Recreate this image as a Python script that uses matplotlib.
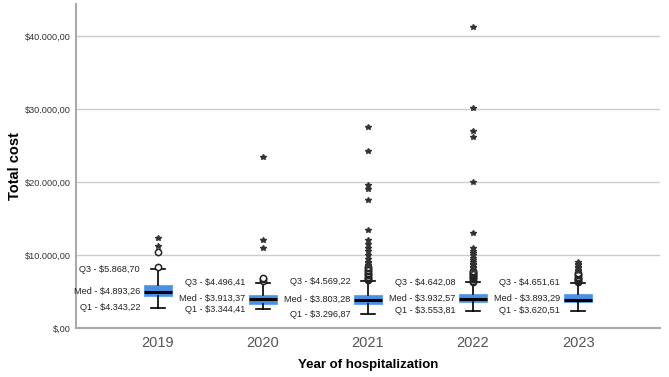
import matplotlib

matplotlib.use("Agg")
import matplotlib.pyplot as plt
from matplotlib.ticker import FuncFormatter

# values (SPSS style boxplot)
years = ["2019", "2020", "2021", "2022", "2023"]
q1 = [4343.22, 3344.41, 3296.87, 3553.81, 3620.51]
med = [4893.26, 3913.37, 3803.28, 3932.57, 3893.29]
q3 = [5868.70, 4496.41, 4569.22, 4642.08, 4651.61]
whis_lo = [2780, 2560, 1870, 2370, 2370]
whis_hi = [8050, 6200, 6440, 6270, 6180]

# mild outliers (circles) and extreme outliers (stars)
mild = [
    [8300, 10400],
    [6500, 6650, 6800],
    [6550, 6700, 6850, 7000, 7200, 7400, 7600, 7800, 8000, 8200, 8350],
    [6350, 6500, 6650, 6800, 6950, 7100, 7250, 7400, 7550, 7700, 7850],
    [6300, 6450, 6600, 6750, 6900, 7050, 7200, 7400, 7600],
]
extreme = [
    [11200, 12400],
    [10900, 12100, 23500],
    [8500, 8700, 8900, 9100, 9500, 10000, 10500, 11000, 11500, 12000,
     13500, 17500, 19000, 19600, 24300, 27500],
    [8000, 8200, 8400, 8600, 8800, 9000, 9300, 9600, 10000, 10300, 10600,
     11000, 13000, 20000, 26200, 27000, 30200, 41300],
    [7800, 8000, 8200, 8400, 8600, 8800, 9000],
]


def money(v):
    s = f"{v:,.2f}".replace(",", "X").replace(".", ",").replace("X", ".")
    if s.startswith("0,"):
        s = s[1:]
    return "$" + s


plt.rcParams["font.family"] = ["Liberation Sans", "DejaVu Sans"]

fig = plt.figure(figsize=(6.69, 3.77), dpi=100)
ax = fig.add_axes([0.1136, 0.130, 0.873, 0.859])

stats = []
for i, y in enumerate(years):
    stats.append(dict(label=y, q1=q1[i], med=med[i], q3=q3[i],
                      whislo=whis_lo[i], whishi=whis_hi[i], fliers=mild[i]))

pos = list(range(1, len(years) + 1))
ax.bxp(stats, positions=pos, widths=0.26, patch_artist=True,
       boxprops=dict(facecolor="#4a8fe3", edgecolor="#6aa4ea", lw=0.8),
       medianprops=dict(color="black", lw=2.2),
       whiskerprops=dict(color="black", lw=1.2),
       capprops=dict(color="black", lw=1.2), capwidths=0.13,
       flierprops=dict(marker="o", mfc="white", mec="#222222", ms=4.5, mew=1.1),
       zorder=3)

for p, ys in zip(pos, extreme):
    ax.plot([p] * len(ys), ys, ls="none", marker="*", color="#333333",
            ms=4.2, zorder=4)

lab_kw = dict(ha="right", va="center", fontsize=6.6, color="#222222")
for p, i in zip(pos, range(len(years))):
    xl = p - 0.17
    ax.text(xl, whis_hi[i], f"Q3 - {money(q3[i])}", **lab_kw)
    ax.text(xl, med[i] + 150, f"Med - {money(med[i])}", **lab_kw)
    ax.text(xl, whis_lo[i], f"Q1 - {money(q1[i])}", **lab_kw)

ax.set_xlim(0.22, 5.78)
ax.set_ylim(0, 44400)
ax.set_yticks([0, 10000, 20000, 30000, 40000])
ax.yaxis.set_major_formatter(FuncFormatter(lambda v, _: money(v)))
ax.set_xticks(pos)
ax.set_xticklabels(years)
ax.tick_params(axis="x", length=0, labelsize=10.5, labelcolor="#555555", pad=6)
ax.tick_params(axis="y", length=0, labelsize=6.6, labelcolor="#333333", pad=4)
ax.grid(axis="y", color="#cccccc", lw=1.0, zorder=0)
ax.set_axisbelow(True)
for s in ("top", "right"):
    ax.spines[s].set_visible(False)
for s in ("left", "bottom"):
    ax.spines[s].set_color("#aaaaaa")
    ax.spines[s].set_linewidth(1.5)

ax.set_ylabel("Total cost", fontsize=10.5, fontweight="bold")
ax.yaxis.set_label_coords(-0.093, 0.5)
ax.set_xlabel("Year of hospitalization", fontsize=9.5, fontweight="bold")
ax.xaxis.set_label_coords(0.5, -0.097)

fig.savefig("out.png", dpi=100)
